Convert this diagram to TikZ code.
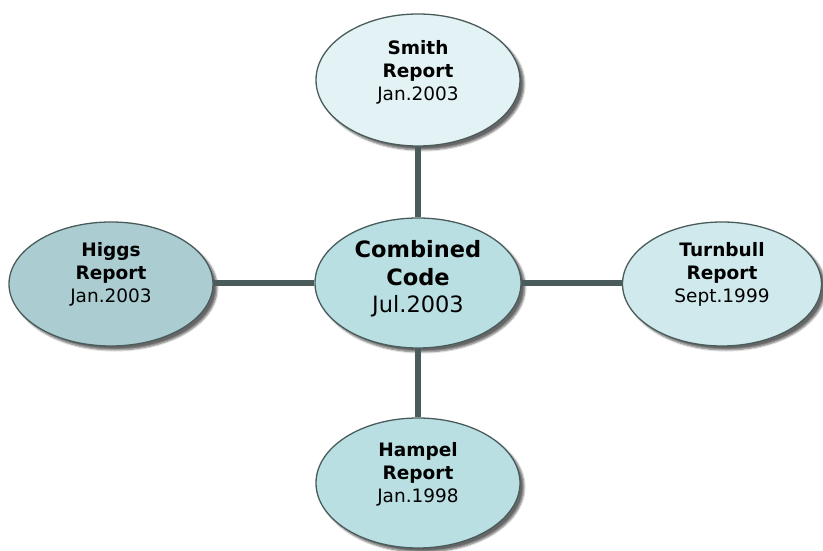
\documentclass[tikz,border=0pt]{standalone}
\usepackage{fontspec}
\setmainfont{DejaVu Sans}
\usetikzlibrary{shapes.geometric,shadows.blur}
\definecolor{edgec}{HTML}{4A5B5B}
\definecolor{fsmith}{HTML}{E3F3F5}
\definecolor{fcomb}{HTML}{B9DFE3}
\definecolor{fhiggs}{HTML}{ABCDD1}
\definecolor{fturn}{HTML}{D0E9EC}
\definecolor{fhamp}{HTML}{B9DFE3}
\tikzset{
  oval/.style={ellipse, draw=edgec, line width=1.3pt, inner sep=0pt,
    blur shadow={shadow xshift=4pt, shadow yshift=-4pt, shadow blur steps=6, shadow opacity=60, shadow blur radius=2pt}},
  lbl/.style={align=center, font=\fontsize{18.5}{23}\selectfont, text=black},
  biglbl/.style={align=center, font=\fontsize{22.5}{27.5}\selectfont, text=black},
  link/.style={draw=edgec, line width=6pt}
}
\begin{document}
\begin{tikzpicture}[x=1pt,y=1pt]
\useasboundingbox (0,0) rectangle (823,551);
\node[oval, fill=fsmith, minimum width=204pt, minimum height=132pt] (smith) at (418,471) {};
\node[oval, fill=fcomb, minimum width=206pt, minimum height=130pt] (comb) at (418,268) {};
\node[oval, fill=fhiggs, minimum width=204pt, minimum height=124pt] (higgs) at (111,267) {};
\node[oval, fill=fturn, minimum width=199pt, minimum height=124pt] (turn) at (722,267) {};
\node[oval, fill=fhamp, minimum width=204pt, minimum height=130pt] (hamp) at (418,68) {};
\draw[link] (comb.north) -- (comb.north |- smith.south);
\draw[link] (comb.south) -- (comb.south |- hamp.north);
\draw[link] (comb.west) -- (comb.west -| higgs.east);
\draw[link] (comb.east) -- (comb.east -| turn.west);
\node[lbl] (tsmith) at (418,479) {\textbf{Smith}\\\textbf{Report}\\Jan.2003};
\node[biglbl] (tcomb) at (418,272) {\textbf{Combined}\\\textbf{Code}\\Jul.2003};
\node[lbl] (thiggs) at (111,277) {\textbf{Higgs}\\\textbf{Report}\\Jan.2003};
\node[lbl] (tturn) at (722,277) {\textbf{Turnbull}\\\textbf{Report}\\Sept.1999};
\node[lbl] (thamp) at (418,77) {\textbf{Hampel}\\\textbf{Report}\\Jan.1998};
\end{tikzpicture}
\end{document}
